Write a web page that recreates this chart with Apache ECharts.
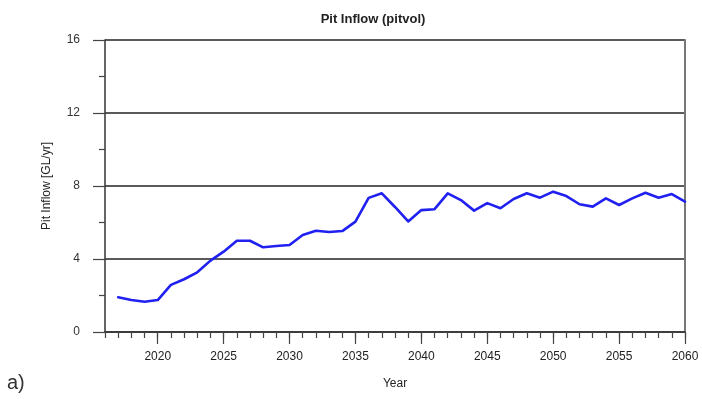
<!DOCTYPE html>
<html>
<head>
<meta charset="utf-8">
<script src="https://cdn.jsdelivr.net/npm/echarts@6/dist/echarts.min.js"></script>
<style>
  html, body { margin: 0; padding: 0; background: #fff; }
  #chart { width: 702px; height: 399px; }
</style>
</head>
<body>
<div id="chart"></div>
<script>
// Annual pit inflow, 2017-2060
const years = [2017, 2018, 2019, 2020, 2021, 2022, 2023, 2024, 2025, 2026,
  2027, 2028, 2029, 2030, 2031, 2032, 2033, 2034, 2035, 2036,
  2037, 2038, 2039, 2040, 2041, 2042, 2043, 2044, 2045, 2046,
  2047, 2048, 2049, 2050, 2051, 2052, 2053, 2054, 2055, 2056,
  2057, 2058, 2059, 2060];
const pitInflow = [1.90, 1.75, 1.66, 1.75, 2.58, 2.89, 3.27, 3.91, 4.40, 5.00,
  5.00, 4.64, 4.71, 4.77, 5.32, 5.55, 5.48, 5.53, 6.05, 7.35,
  7.60, 6.85, 6.06, 6.68, 6.73, 7.60, 7.23, 6.65, 7.06, 6.78,
  7.29, 7.60, 7.36, 7.69, 7.45, 7.00, 6.87, 7.32, 6.96, 7.32,
  7.63, 7.36, 7.56, 7.14];
const yearTicks = [2020, 2025, 2030, 2035, 2040, 2045, 2050, 2055, 2060];
const inflowTicks = [0, 4, 8, 12, 16];

const chart = echarts.init(document.getElementById('chart'), null, { renderer: 'canvas' });
const font = 'Liberation Sans, Arial, sans-serif';

chart.setOption({
  backgroundColor: '#ffffff',
  animation: false,
  title: {
    text: 'Pit Inflow (pitvol)',
    left: 368,
    top: 8,
    textAlign: 'center',
    textStyle: { fontFamily: font, fontSize: 13, fontWeight: 'bold', color: '#222' }
  },
  graphic: [{
    type: 'text',
    left: 7,
    top: 373,
    style: { text: 'a)', fontFamily: font, fontSize: 20, fill: '#333' }
  }],
  grid: { left: 105, right: 17, top: 40, bottom: 67 },
  xAxis: [{
    type: 'value',
    min: 2016,
    max: 2060,
    interval: 1,
    name: 'Year',
    nameLocation: 'middle',
    nameGap: 46,
    nameTextStyle: { fontFamily: font, fontSize: 12, color: '#222' },
    axisLine: { show: true, onZero: false, lineStyle: { color: '#333', width: 1.5 } },
    axisTick: { show: true, length: 6, lineStyle: { color: '#444', width: 1.2 } },
    axisLabel: {
      customValues: yearTicks,
      margin: 19,
      fontFamily: font, fontSize: 12, color: '#222',
      formatter: v => String(v)
    },
    splitLine: { show: false }
  }, {
    // longer ticks at every fifth year
    type: 'value',
    min: 2016,
    max: 2060,
    position: 'bottom',
    axisLine: { show: false },
    axisTick: { show: true, customValues: yearTicks, length: 12, lineStyle: { color: '#444', width: 1.2 } },
    axisLabel: { show: false },
    splitLine: { show: false }
  }],
  yAxis: [{
    type: 'value',
    min: 0,
    max: 16,
    interval: 4,
    name: 'Pit Inflow [GL/yr]',
    nameLocation: 'middle',
    nameGap: 52,
    nameTextStyle: { fontFamily: font, fontSize: 12, color: '#222' },
    axisLine: { show: true, onZero: false, lineStyle: { color: '#333', width: 1.5 } },
    axisTick: { show: true, length: 12, lineStyle: { color: '#444', width: 1.2 } },
    minorTick: { show: true, splitNumber: 2, length: 6, lineStyle: { color: '#444', width: 1.2 } },
    axisLabel: {
      customValues: inflowTicks,
      margin: 25,
      fontFamily: font, fontSize: 12, color: '#333'
    },
    splitLine: { show: true, lineStyle: { color: '#5a5a5a', width: 2 } }
  }, {
    // right frame edge
    type: 'value',
    min: 0,
    max: 16,
    position: 'right',
    axisLine: { show: true, onZero: false, lineStyle: { color: '#777', width: 2 } },
    axisTick: { show: false },
    axisLabel: { show: false },
    splitLine: { show: false }
  }],
  series: [{
    type: 'line',
    data: years.map((y, i) => [y, pitInflow[i]]),
    symbol: 'none',
    smooth: false,
    lineStyle: { color: '#2020f0', width: 2.6, join: 'round', cap: 'round' },
    z: 5
  }]
});
</script>
</body>
</html>
